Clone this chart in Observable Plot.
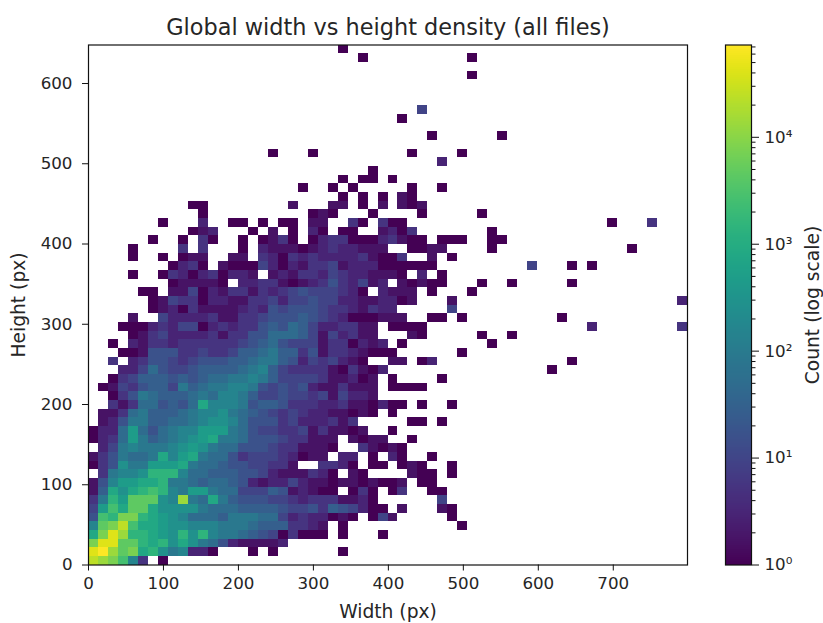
<!DOCTYPE html>
<html>
<head>
<meta charset="utf-8">
<script src="https://cdn.jsdelivr.net/npm/d3@7"></script>
<script src="https://cdn.jsdelivr.net/npm/@observablehq/plot@0.6"></script>
<style>
  html, body { margin: 0; padding: 0; background: #fff; }
  #chart { position: relative; width: 823px; height: 623px; overflow: hidden; }
  #chart svg { position: absolute; left: 0; top: 0; background: transparent; }
</style>
</head>
<body>
<div id="chart"></div>
<script>
// Reading of the picture: one string per height bin, top bin first, ten width bins per group.
// "." = empty bin; otherwise a base-36 colour level (0 = one file, k = the maximum count).
const heightBinsTopDown = [
  ".......... .......... .....0",
  ".......... .......... .......0.. ........0.",
  "",
  ".......... .......... .......... ........0.",
  "",
  "",
  "",
  ".......... .......... .......... ...4......",
  ".......... .......... .......... .0........",
  "",
  ".......... .......... .......... ....0..... .0........",
  "",
  ".......... ........0. ..0....... ..0....0..",
  ".......... .......... .......... .....2....",
  ".......... .......... ........0.",
  ".......... .......... .....0.00. 0.........",
  ".......... .......... .0..0.0... ..0..0....",
  ".......... .......... .....0.0.0 .10.......",
  ".......... 00........ 1...11.0.1 .101......",
  ".......... .0........ ..010...0. ...0.....0",
  ".......0.. .2..00.0.0 0.11..30.3 00........ .......... ..0...3...",
  ".......... 012...0.1. 0.20.00..1 203....... 0.........",
  "......0..0 .30..0.013 0.02330002 3100.000.. 00........",
  "....0....3 .3...0.211 1012322111 ..0011.... 0......... ....0.....",
  "....0..0.0 11..11.320 3232222310 03..1.0...",
  "........02 30.1000420 2133412220 00000..... ....4...0. 0.........",
  "....0..032 0230221.12 1332432211 10.2.0....",
  "........01 1110.22331 0123532412 .10100...0 ..0.....0.",
  ".....00.11 4021331323 45444320.2 111.0...0.",
  "......0143 3022113342 4454422112 201...1... .......... .........2",
  "......0120 3111123254 5554332132 2.....4...",
  "....1..422 2231133455 5654320001 11..00.0.. .......0..",
  "...0002324 4023233565 764223311. 0000...... .......... 2........3",
  "....013422 2231335577 764142311. ..10.....0 ..0.......",
  "..0.213323 3333345675 4441330212 .0........ 0.........",
  "...0015553 3433466786 6351332100 0......0..",
  "..3.235543 4555667886 52434210.. 11.02..... ........0.",
  "...2247544 5666678964 3333103102 .......... ......0...",
  "..03466656 5677889864 444311201. 0....0....",
  ".014356648 6788998545 452113111. 0000......",
  "..03587666 7879986445 443414221.",
  "..31377565 7c99985665 3332231102 00.0..0...",
  ".113786667 899a876543 432211010. 0.........",
  ".125886677 89aa975553 4222313... ..00.0....",
  "0227b75789 9bbb875443 34131101.. 0.........",
  "0237b86789 abc8875554 33111.1011 ..0.......",
  ".24898889a ba87755543 31110..310 10........",
  "1358778c9b c877534443 2011.22.0. 20..0.....",
  "035a88bbbc 8776554433 1..3320.00 .010..0...",
  ".3899addd9 7766655421 11320.10.. ..100.0...",
  "159bbccd88 7677652122 4211011010 01.00.....",
  "16cacded98 bb87744465 12100.030. 03..00....",
  "38dbfffa9h 87c8655544 323331120. .....4....",
  "4becffcaaa a877766665 4453654200 .1...10...",
  "5edggdcba9 7776888774 2322010.04 1.....0...",
  "9fgieccbaa 9998887666 3321.0.... .......0..",
  "cgjhddcbad ad98876540 3000.0...0",
  "gjjffdcdac a875211112",
  "jkhfgcda89 220...0.0. .....0....",
  "ihge93.0.."
];
const binCount = 60;
const widthMax = 799;
const heightMax = 648;
const maxCount = 73000;
const widthTicks = [0, 100, 200, 300, 400, 500, 600, 700];
const heightTicks = [0, 100, 200, 300, 400, 500, 600];
const colorTicks = [1, 10, 100, 1000, 10000];
const colorMinorTicks = [2,3,4,5,6,7,8,9,20,30,40,50,60,70,80,90,200,300,400,500,600,700,800,900,
  2000,3000,4000,5000,6000,7000,8000,9000,20000,30000,40000,50000,60000,70000];
const titleText = "Global width vs height density (all files)";
const xLabelText = "Width (px)";
const yLabelText = "Height (px)";
const barLabelText = "Count (log scale)";
const font = "'DejaVu Sans', sans-serif";
const superscripts = "⁰¹²³⁴⁵⁶⁷⁸⁹";
const ink = "#262626";

const cells = [];
heightBinsTopDown.forEach((row, r) => {
  const j = binCount - 1 - r;
  [...row.replace(/ /g, "")].forEach((ch, i) => {
    if (ch === ".") return;
    const level = parseInt(ch, 36);
    cells.push({
      x1: i * widthMax / binCount,
      x2: (i + 1) * widthMax / binCount,
      y1: j * heightMax / binCount,
      y2: (j + 1) * heightMax / binCount,
      count: Math.pow(maxCount, level / 20)
    });
  });
});

const colorScale = { type: "log", domain: [1, maxCount], scheme: "viridis" };
const base = { width: 823, height: 623, marginTop: 44.5, marginBottom: 58.5, style: { fontFamily: font, fontSize: "16.7px", color: ink, background: "transparent" } };

const main = Plot.plot({
  ...base,
  marginLeft: 88,
  marginRight: 136,
  x: { domain: [0, widthMax] },
  y: { domain: [0, heightMax] },
  color: colorScale,
  marks: [
    Plot.rect(cells, { x1: "x1", x2: "x2", y1: "y1", y2: "y2", fill: "count", shapeRendering: "crispEdges" }),
    Plot.frame({ stroke: "#111", strokeWidth: 1.2 }),
    Plot.axisX({ ticks: widthTicks, tickSize: 6, tickPadding: 6, stroke: "#111", strokeOpacity: 1, fontSize: 16.7, label: null, tickFormat: d => String(d) }),
    Plot.axisY({ ticks: heightTicks, tickSize: 6, tickPadding: 10, stroke: "#111", strokeOpacity: 1, fontSize: 16.7, label: null, tickFormat: d => String(d) }),
    Plot.text([titleText], { frameAnchor: "top", dy: -26, fontSize: 22.4, fill: ink }),
    Plot.text([xLabelText], { frameAnchor: "bottom", dy: 53, fontSize: 18.7, fill: ink }),
    Plot.text([yLabelText], { frameAnchor: "left", textAnchor: "middle", dx: -69, rotate: -90, fontSize: 18.7, fill: ink })
  ]
});

const rampEdges = d3.range(0, 261).map(k => Math.pow(maxCount, k / 260));
const ramp = rampEdges.slice(0, -1).map((v, k) => ({ y1: v, y2: rampEdges[k + 1], value: Math.sqrt(v * rampEdges[k + 1]) }));

const bar = Plot.plot({
  ...base,
  marginLeft: 725,
  marginRight: 72,
  x: { domain: [0, 1], axis: null },
  y: { type: "log", domain: [1, maxCount] },
  color: colorScale,
  marks: [
    Plot.rect(ramp, { x1: 0, x2: 1, y1: "y1", y2: "y2", fill: "value", shapeRendering: "crispEdges" }),
    Plot.frame({ stroke: "#111", strokeWidth: 1.2 }),
    Plot.axisY(colorMinorTicks, { anchor: "right", tickSize: 3.5, stroke: "#111", strokeOpacity: 1, tickFormat: () => "", label: null }),
    Plot.axisY(colorTicks, { anchor: "right", tickSize: 7, tickPadding: 6, stroke: "#111", strokeOpacity: 1, fontSize: 16.7, label: null,
      tickFormat: d => "10" + superscripts[Math.round(Math.log10(d))] }),
    Plot.text([barLabelText], { frameAnchor: "right", textAnchor: "middle", dx: 62, rotate: -90, fontSize: 18.7, fill: ink })
  ]
});

const root = document.getElementById("chart");
root.append(main, bar);
</script>
</body>
</html>
